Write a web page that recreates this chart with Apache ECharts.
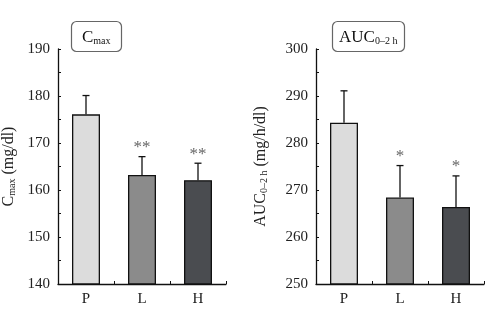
<!DOCTYPE html>
<html>
<head>
<meta charset="utf-8">
<script src="https://cdn.jsdelivr.net/npm/echarts@6/dist/echarts.min.js"></script>
<style>
html,body{margin:0;padding:0;background:#fff;}
#c{width:490px;height:326px;}
</style>
</head>
<body>
<div id="c"></div>
<script>
// ---- data ----
const categories = ['P', 'L', 'H'];
const cmaxMean = [176.1, 163.2, 162.1];
const cmaxUpper = [180.1, 167.1, 165.7];
const cmaxSig = ['', '**', '**'];
const aucMean = [284.3, 268.4, 266.4];
const aucUpper = [291.1, 275.2, 273.0];
const aucSig = ['', '*', '*'];
const cmaxTicks = { min: 140, max: 190, interval: 5, labelStep: 10 };
const aucTicks = { min: 250, max: 300, interval: 5, labelStep: 10 };
const barColors = ['#dcdcdc', '#8b8b8b', '#4a4c50'];

const SERIF = '"Liberation Serif", "DejaVu Serif", serif';

function errRender(sig) {
  return function (params, api) {
    const i = api.value(0);
    const p0 = api.coord([i, api.value(1)]);
    const p1 = api.coord([i, api.value(2)]);
    const half = 3.5;
    const s = sig[params.dataIndex];
    const children = [
      { type: 'line', shape: { x1: p0[0], y1: p0[1], x2: p1[0], y2: p1[1] }, style: { stroke: '#111', lineWidth: 1.3 } },
      { type: 'line', shape: { x1: p1[0] - half, y1: p1[1], x2: p1[0] + half, y2: p1[1] }, style: { stroke: '#111', lineWidth: 1.3 } }
    ];
    if (s) {
      children.push({ type: 'text', style: { text: s, x: p1[0], y: p1[1] - 9, align: 'center', verticalAlign: 'middle', fontSize: 17, fontFamily: SERIF, fill: '#666' } });
    }
    return { type: 'group', children: children };
  };
}

function barData(vals) {
  return vals.map((v, i) => ({ value: v, itemStyle: { color: barColors[i] } }));
}
function errData(mean, upper) {
  return mean.map((m, i) => [i, m, upper[i]]);
}

const axisCommonY = (t, name, gap) => ({
  type: 'value',
  min: t.min, max: t.max, interval: t.interval,
  name: name, nameLocation: 'middle', nameGap: gap, nameRotate: 90,
  nameTextStyle: {
    rich: {
      a: { fontFamily: SERIF, fontSize: 16, color: '#222' },
      b: { fontFamily: SERIF, fontSize: 10, color: '#222', padding: [6, 0, 0, 0] }
    }
  },
  axisLine: { show: true, lineStyle: { color: '#111', width: 1.3 } },
  axisTick: { show: true, inside: true, length: 3, lineStyle: { color: '#111' } },
  splitLine: { show: false },
  axisLabel: {
    fontFamily: SERIF, fontSize: 15, color: '#222', margin: 8,
    formatter: v => (Math.round(v) % t.labelStep === 0 ? String(v) : '')
  }
});

const axisCommonX = (gi) => ({
  type: 'category', gridIndex: gi, data: categories, boundaryGap: true,
  axisLine: { lineStyle: { color: '#111', width: 1.3 } },
  axisTick: { show: true, inside: true, length: 3, lineStyle: { color: '#111' } },
  axisLabel: { fontFamily: SERIF, fontSize: 15, color: '#222', margin: 8 }
});

const titleBox = (text, left, padH) => ({
  text: text,
  left: left, top: 20,
  borderColor: '#666', borderWidth: 1.2, borderRadius: 5,
  padding: [8, padH, 6, padH],
  textStyle: {
    fontWeight: 'normal',
    rich: {
      a: { fontFamily: SERIF, fontSize: 17, color: '#111', fontWeight: 'normal', lineHeight: 19 },
      b: { fontFamily: SERIF, fontSize: 10, color: '#111', fontWeight: 'normal', padding: [7, 0, 0, 0] }
    }
  }
});

const chart = echarts.init(document.getElementById('c'), null, { renderer: 'canvas' });
chart.setOption({
  animation: false,
  backgroundColor: '#fff',
  title: [
    titleBox('{a|C}{b|max}', 71, 11),
    titleBox('{a|AUC}{b|0–2 h}', 332, 7)
  ],
  grid: [
    { left: 58, top: 49, width: 168, height: 235 },
    { left: 316, top: 49, width: 168, height: 235 }
  ],
  xAxis: [axisCommonX(0), axisCommonX(1)],
  yAxis: [
    Object.assign(axisCommonY(cmaxTicks, '{a|C}{b|max}{a| (mg/dl)}', 41), { gridIndex: 0 }),
    Object.assign(axisCommonY(aucTicks, '{a|AUC}{b|0–2 h}{a| (mg/h/dl)}', 47), { gridIndex: 1 })
  ],
  series: [
    { type: 'bar', xAxisIndex: 0, yAxisIndex: 0, data: barData(cmaxMean), barWidth: 28,
      itemStyle: { borderColor: '#111', borderWidth: 1.3 } },
    { type: 'custom', xAxisIndex: 0, yAxisIndex: 0, data: errData(cmaxMean, cmaxUpper), renderItem: errRender(cmaxSig), z: 5 },
    { type: 'bar', xAxisIndex: 1, yAxisIndex: 1, data: barData(aucMean), barWidth: 28,
      itemStyle: { borderColor: '#111', borderWidth: 1.3 } },
    { type: 'custom', xAxisIndex: 1, yAxisIndex: 1, data: errData(aucMean, aucUpper), renderItem: errRender(aucSig), z: 5 }
  ]
});
</script>
</body>
</html>
